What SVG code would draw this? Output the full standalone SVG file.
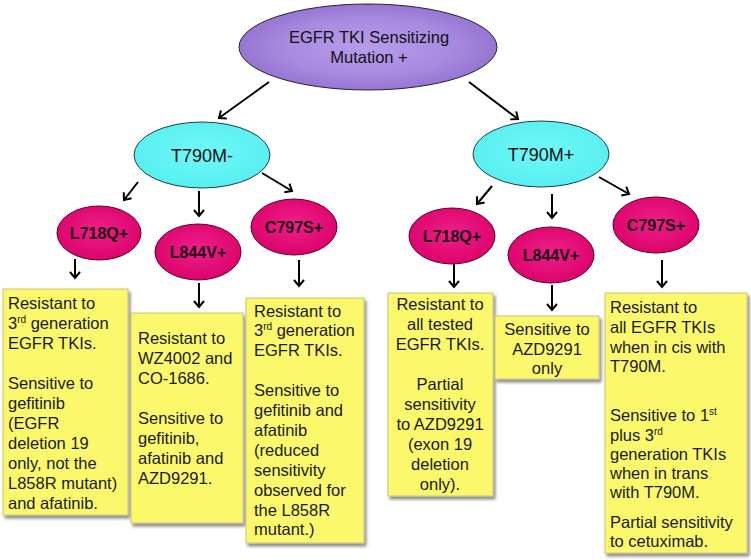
<svg xmlns="http://www.w3.org/2000/svg" width="751" height="560" viewBox="0 0 751 560">
<defs>
<radialGradient id="gPurple" cx="50%" cy="50%" r="55%">
<stop offset="0" stop-color="#B89CEA"/><stop offset="0.6" stop-color="#A88AE0"/><stop offset="1" stop-color="#9070CC"/>
</radialGradient>
<radialGradient id="gCyan" cx="50%" cy="45%" r="60%">
<stop offset="0" stop-color="#70F8F8"/><stop offset="1" stop-color="#55EEF0"/>
</radialGradient>
<radialGradient id="gPink" cx="50%" cy="45%" r="60%">
<stop offset="0" stop-color="#F0208A"/><stop offset="1" stop-color="#DA0068"/>
</radialGradient>
<filter id="shadow" x="-10%" y="-10%" width="130%" height="130%">
<feDropShadow dx="2" dy="3" stdDeviation="1.5" flood-color="#000" flood-opacity="0.45"/>
</filter>
<marker id="ah" markerWidth="12" markerHeight="12" refX="7" refY="6" orient="auto" markerUnits="userSpaceOnUse">
<path d="M1,1 L7,6 L1,11" fill="none" stroke="#000" stroke-width="2"/>
</marker>
<style>
.box{fill:#FBF86C;stroke:#C9C27A;stroke-width:1;filter:url(#shadow)}
.t{font-family:"Liberation Sans",Arial,sans-serif;font-size:16.5px;fill:#1a1a1a}
.c{text-anchor:middle}
.sup{font-size:10px}
.pk{fill:url(#gPink);stroke:#5a0028;stroke-width:1}
.pt{font-family:"Liberation Sans",Arial,sans-serif;font-size:16px;font-weight:bold;fill:#1a0010;text-anchor:middle}
.cy{fill:url(#gCyan);stroke:#1f3f40;stroke-width:1}
.ct{font-family:"Liberation Sans",Arial,sans-serif;font-size:18px;fill:#111;text-anchor:middle}
.ar{stroke:#000;stroke-width:2;fill:none;marker-end:url(#ah)}
</style>
</defs>

<g id="root">
<ellipse cx="368" cy="47" rx="129" ry="43" fill="url(#gPurple)" stroke="#2a2040" stroke-width="1"/>
<text class="ct" x="369" y="43" style="font-size:16.5px">EGFR TKI Sensitizing</text>
<text class="ct" x="369" y="63" style="font-size:16.5px">Mutation +</text>
</g>

<g id="t790m-neg">
<ellipse class="cy" cx="202" cy="155" rx="68" ry="33"/>
<text class="ct" x="202" y="162">T790M-</text>
</g>
<g id="t790m-pos">
<ellipse class="cy" cx="541" cy="154" rx="68" ry="33"/>
<text class="ct" x="541" y="161">T790M+</text>
</g>

<g id="neg-l718q">
<ellipse class="pk" cx="99" cy="233" rx="42" ry="27"/>
<text class="pt" x="99" y="239">L718Q+</text>
</g>
<g id="neg-l844v">
<ellipse class="pk" cx="198" cy="252" rx="43" ry="28"/>
<text class="pt" x="198" y="258">L844V+</text>
</g>
<g id="neg-c797s">
<ellipse class="pk" cx="294" cy="227" rx="43" ry="28"/>
<text class="pt" x="294" y="233">C797S+</text>
</g>
<g id="pos-l718q">
<ellipse class="pk" cx="452" cy="236" rx="43" ry="28"/>
<text class="pt" x="452" y="242">L718Q+</text>
</g>
<g id="pos-l844v">
<ellipse class="pk" cx="551" cy="255" rx="43" ry="28"/>
<text class="pt" x="551" y="261">L844V+</text>
</g>
<g id="pos-c797s">
<ellipse class="pk" cx="656" cy="225" rx="43" ry="28"/>
<text class="pt" x="656" y="231">C797S+</text>
</g>

<g id="box1">
<rect class="box" x="3" y="289" width="125" height="226"/>
<text class="t" x="8" y="309">Resistant to</text>
<text class="t" x="8" y="329">3<tspan class="sup" dy="-6">rd</tspan><tspan dy="6"> generation</tspan></text>
<text class="t" x="8" y="349">EGFR TKIs.</text>
<text class="t" x="8" y="389">Sensitive to</text>
<text class="t" x="8" y="409">gefitinib</text>
<text class="t" x="8" y="429">(EGFR</text>
<text class="t" x="8" y="449">deletion 19</text>
<text class="t" x="8" y="469">only, not the</text>
<text class="t" x="8" y="489">L858R mutant)</text>
<text class="t" x="8" y="509">and afatinib.</text>
</g>

<g id="box2">
<rect class="box" x="131" y="313" width="112" height="210"/>
<text class="t" x="138" y="344">Resistant to</text>
<text class="t" x="138" y="364">WZ4002 and</text>
<text class="t" x="138" y="384">CO-1686.</text>
<text class="t" x="138" y="424">Sensitive to</text>
<text class="t" x="138" y="444">gefitinib,</text>
<text class="t" x="138" y="464">afatinib and</text>
<text class="t" x="138" y="484">AZD9291.</text>
</g>

<g id="box3">
<rect class="box" x="246" y="298" width="118" height="245"/>
<text class="t" x="254" y="317">Resistant to</text>
<text class="t" x="254" y="336">3<tspan class="sup" dy="-6">rd</tspan><tspan dy="6"> generation</tspan></text>
<text class="t" x="254" y="356">EGFR TKIs.</text>
<text class="t" x="254" y="396">Sensitive to</text>
<text class="t" x="254" y="416">gefitinib and</text>
<text class="t" x="254" y="436">afatinib</text>
<text class="t" x="254" y="456">(reduced</text>
<text class="t" x="254" y="476">sensitivity</text>
<text class="t" x="254" y="496">observed for</text>
<text class="t" x="254" y="516">the L858R</text>
<text class="t" x="254" y="535">mutant.)</text>
</g>

<g id="box4">
<rect class="box" x="388" y="293" width="105" height="203"/>
<text class="t c" x="440" y="310">Resistant to</text>
<text class="t c" x="440" y="330">all tested</text>
<text class="t c" x="440" y="350">EGFR TKIs.</text>
<text class="t c" x="440" y="390">Partial</text>
<text class="t c" x="440" y="410">sensitivity</text>
<text class="t c" x="440" y="430">to AZD9291</text>
<text class="t c" x="440" y="450">(exon 19</text>
<text class="t c" x="440" y="470">deletion</text>
<text class="t c" x="440" y="490">only).</text>
</g>

<g id="box5">
<rect class="box" x="495" y="316" width="104" height="63"/>
<text class="t c" x="547" y="335">Sensitive to</text>
<text class="t c" x="547" y="355">AZD9291</text>
<text class="t c" x="547" y="374">only</text>
</g>

<g id="box6">
<rect class="box" x="605" y="293" width="142" height="260"/>
<text class="t" x="610" y="313">Resistant to</text>
<text class="t" x="610" y="333">all EGFR TKIs</text>
<text class="t" x="610" y="353">when in cis with</text>
<text class="t" x="610" y="372">T790M.</text>
<text class="t" x="610" y="421">Sensitive to 1<tspan class="sup" dy="-6">st</tspan></text>
<text class="t" x="610" y="441">plus 3<tspan class="sup" dy="-6">rd</tspan></text>
<text class="t" x="610" y="460">generation TKIs</text>
<text class="t" x="610" y="479">when in trans</text>
<text class="t" x="610" y="498">with T790M.</text>
<text class="t" x="610" y="528">Partial sensitivity</text>
<text class="t" x="610" y="547">to cetuximab.</text>
</g>

<g id="connectors">
<line class="ar" x1="269" y1="82" x2="219" y2="118"/>
<line class="ar" x1="469" y1="82" x2="518" y2="119"/>
<line class="ar" x1="138" y1="182" x2="124" y2="200"/>
<line class="ar" x1="199" y1="191" x2="199" y2="216"/>
<line class="ar" x1="262" y1="173" x2="292" y2="191"/>
<line class="ar" x1="492" y1="186" x2="477" y2="204"/>
<line class="ar" x1="552" y1="194" x2="552" y2="218"/>
<line class="ar" x1="599" y1="177" x2="629" y2="194"/>
<line class="ar" x1="75" y1="259" x2="75" y2="278"/>
<line class="ar" x1="199" y1="283" x2="199" y2="307"/>
<line class="ar" x1="299" y1="260" x2="299" y2="286"/>
<line class="ar" x1="454" y1="264" x2="454" y2="287"/>
<line class="ar" x1="552" y1="285" x2="552" y2="310"/>
<line class="ar" x1="662" y1="260" x2="662" y2="287"/>
</g>
</svg>
